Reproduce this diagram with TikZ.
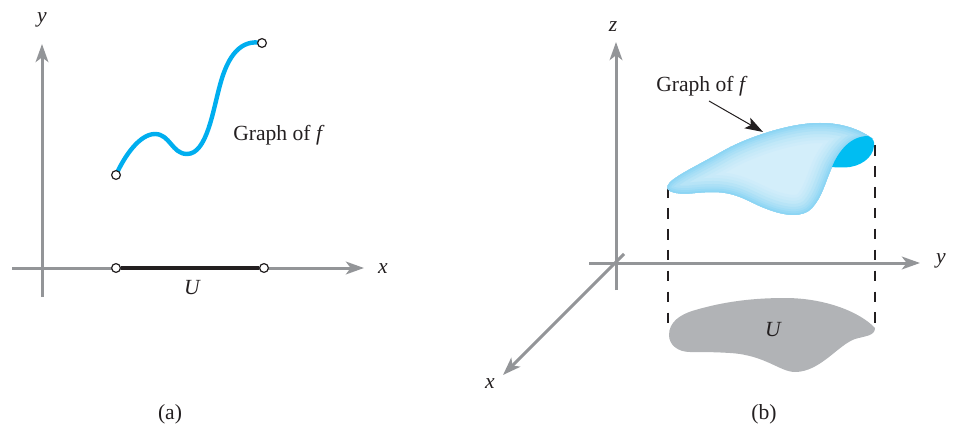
\documentclass[tikz,border=0pt]{standalone}
\usepackage{fontspec}
\setmainfont{Liberation Serif}
\usetikzlibrary{arrows.meta}
\definecolor{axisgray}{HTML}{939598}
\definecolor{curveblue}{HTML}{00AEEF}
\definecolor{lobeblue}{HTML}{00BDF2}
\definecolor{blobgray}{HTML}{B1B3B6}
\definecolor{inner}{HTML}{D3EEFA}
\definecolor{edgeblue}{HTML}{86D3F3}
\definecolor{inkgray}{HTML}{231F20}
\newcommand{\bodyshape}{(667.5,186) .. controls (670,178) and (697,166) .. (723,151) .. controls (740,141) and (785,123) .. (820,123) .. controls (845,123) and (862,131) .. (873,139) .. controls (855,135) and (843,147) .. (832,167) .. controls (825,183) and (822,197) .. (812,208) .. controls (803,218) and (785,216) .. (767,209) .. controls (750,203) and (738,192) .. (713,192) .. controls (698,192) and (688,194.5) .. (680,193.5) .. controls (673,193) and (666,191) .. (667.5,186) -- cycle}
\newcommand{\lobeshape}{(832,167) .. controls (838,152) and (850,136) .. (868,136) .. controls (873,138) and (875,142) .. (874,146) .. controls (873,158) and (860,167) .. (845,167.5) .. controls (840,167.5) and (836,167.5) .. (832,167) -- cycle}
\tikzset{
  axis/.style={draw=axisgray,line width=2.25pt},
  axisarrow/.style={axis,-{Stealth[length=13.5pt,width=9.5pt,inset=3.5pt]}},
  hollow/.style={circle,draw=inkgray,fill=white,line width=0.9pt,inner sep=0pt,minimum size=6.6pt},
  lbl/.style={font=\fontsize{16.2}{19}\selectfont,inner sep=0pt,text=inkgray},
  droplines/.style={draw=inkgray,line width=0.85pt,dash pattern=on 8pt off 7.7pt},
}
\begin{document}
\begin{tikzpicture}[x=0.75pt,y=-0.75pt]
\useasboundingbox (0,0) rectangle (953,424);
% (a)
\coordinate (ay0) at (42,297); \coordinate (ay1) at (42,44);
\coordinate (ax0) at (12,268); \coordinate (ax1) at (364,268);
\draw[axisarrow] (ay0) -- (ay1);
\draw[axisarrow] (ax0) -- (ax1);
\node[hollow] (ua) at (116,268) {};
\node[hollow] (ub) at (264,268) {};
\draw[line width=3pt,inkgray] (ua) -- (ub);
\draw[line width=3.3pt,curveblue] (116,175) .. controls (125,155) and (140,134) .. (155,134) .. controls (170,134) and (172,154) .. (187,154) .. controls (207,154) and (213,110) .. (220,85) .. controls (228,55) and (241,39) .. (262,43);
\node[hollow] (ca) at (116,175) {};
\node[hollow] (cb) at (262,43) {};
\node[lbl] (ylab) at (42,20) {\itshape y};
\node[lbl] (xlab) at (383,269) {\itshape x};
\node[lbl] (ulab) at (192,288) {\itshape U};
\node[lbl,anchor=west] (glab) at (233,135) {Graph of \itshape f};
\node[lbl] (acap) at (170,414) {(a)};
% (b)
\coordinate (bz0) at (616,290); \coordinate (bz1) at (616,42);
\coordinate (by0) at (589,263); \coordinate (by1) at (920,263);
\coordinate (bx0) at (624,254); \coordinate (bx1) at (503,375);
\draw[axisarrow] (bz0) -- (bz1);
\draw[axisarrow] (by0) -- (by1);
\draw[axisarrow] (bx0) -- (bx1);
\coordinate (d1t) at (668,187); \coordinate (d1b) at (668,327);
\coordinate (d2t) at (875,145); \coordinate (d2b) at (875,327);
\draw[droplines] (d1t) -- (d1b);
\draw[droplines] (d2t) -- (d2b);
\fill[blobgray] (669,335) .. controls (669,322) and (680,315) .. (692,311) .. controls (725,301) and (755,298) .. (785,298) .. controls (825,298) and (860,312) .. (875,328) .. controls (875,336) and (865,336) .. (855,339) .. controls (838,345) and (820,372) .. (795,372) .. controls (780,372) and (765,355) .. (730,353) .. controls (715,352) and (700,352) .. (690,352) .. controls (678,352) and (669,345) .. (669,335) -- cycle;
\begin{scope}
  \clip \bodyshape;
  \fill[inner] \bodyshape;
  \foreach \w/\p in {40/6,34/14,28/24,22/36,16/50,11/64,7/78,3/92}{
    \draw[draw=edgeblue!\p!inner,line width=\w*0.75pt] \bodyshape;
  }
\end{scope}
\fill[lobeblue] \lobeshape;
\node[lbl] (zlab) at (613,27) {\itshape z};
\node[lbl] (ylabb) at (941,261) {\itshape y};
\node[lbl] (xlabb) at (490,384) {\itshape x};
\node[lbl] (ulabb) at (773,330) {\itshape U};
\node[lbl,anchor=west] (glabb) at (656,86) {Graph of \itshape f};
\coordinate (gtip) at (763,132);
\coordinate (gstart) at (709,101);
\draw[line width=0.75pt,inkgray,-{Stealth[length=13.5pt,width=9pt,inset=3pt]}] (gstart) -- (gtip);
\node[lbl] (bcap) at (764,414) {(b)};
\end{tikzpicture}
\end{document}
